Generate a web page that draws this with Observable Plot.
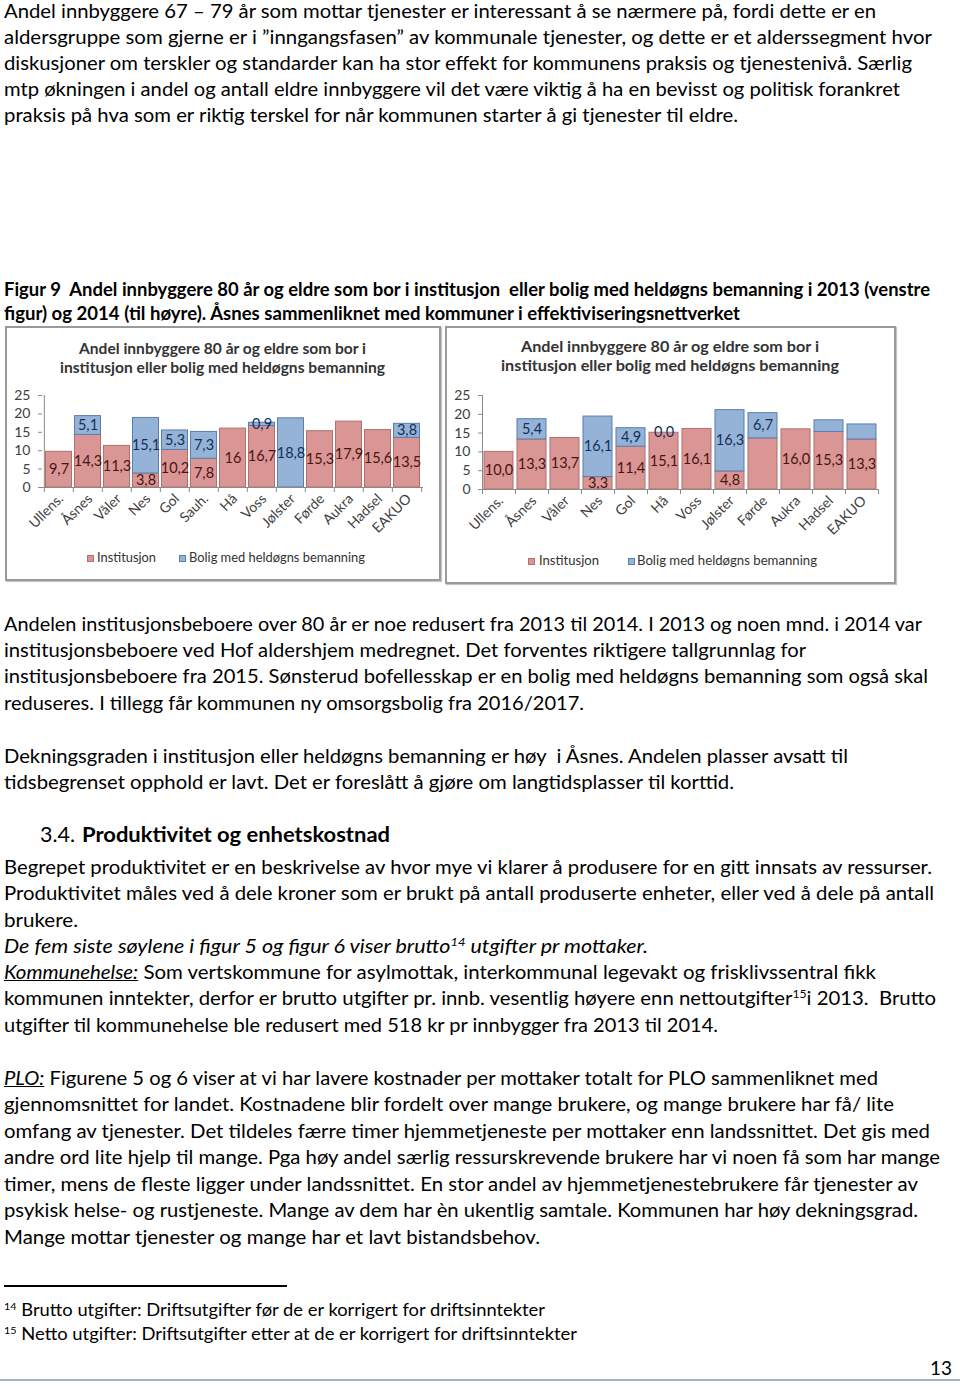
<!DOCTYPE html>
<html>
<head>
<meta charset="utf-8">
<script src="https://cdn.jsdelivr.net/npm/d3@7"></script>
<script src="https://cdn.jsdelivr.net/npm/@observablehq/plot@0.6"></script>
<style>
  html, body { margin: 0; padding: 0; background: #fff; }
  #page { position: relative; width: 960px; height: 1386px; overflow: hidden; font-family: Lato, "Open Sans", sans-serif; color: #000; }
  .ln { position: absolute; white-space: nowrap; font-size: 18.5px; line-height: 26px; transform-origin: 0 50%; }
  .b { font-weight: bold; }
  .i { font-style: italic; }
  .u { text-decoration: underline; }
  sup { font-size: 0.6em; line-height: 0; vertical-align: 0.65em; }
  .box { position: absolute; box-sizing: border-box; border: 2px solid #9a9a9a; background: #fff; box-shadow: 1px 1px 1px #c8c8c8; }
  .ct { position: absolute; white-space: nowrap; font-size: 14.5px; font-weight: bold; color: #333; line-height: 18px; transform-origin: 0 50%; }
  .lg { position: absolute; white-space: nowrap; font-size: 12.5px; color: #333; line-height: 14px; transform-origin: 0 50%; }
  .sw { position: absolute; width: 7px; height: 7px; box-sizing: border-box; }
  .plot { position: absolute; }
  .rule { position: absolute; height: 2px; background: #000; }
</style>
</head>
<body>
<div id="page"></div>
<script>
// ---------- Data ----------
const kommuner2013 = ["Ullens.","Åsnes","Våler","Nes","Gol","Sauh.","Hå","Voss","Jølster","Førde","Aukra","Hadsel","EAKUO"];
const institusjon2013 = [9.7, 14.3, 11.3, 3.8, 10.2, 7.8, 16, 16.7, 0, 15.3, 17.9, 15.6, 13.5];
const bolig2013 = [0, 5.1, 0, 15.1, 5.3, 7.3, 0, 0.9, 18.8, 0, 0, 0, 3.8];
const institusjonLabels2013 = ["9,7","14,3","11,3","3,8","10,2","7,8","16","16,7","","15,3","17,9","15,6","13,5"];
const boligLabels2013 = ["","5,1","","15,1","5,3","7,3","","0,9","18,8","","","","3,8"];

const kommuner2014 = ["Ullens.","Åsnes","Våler","Nes","Gol","Hå","Voss","Jølster","Førde","Aukra","Hadsel","EAKUO"];
const institusjon2014 = [10.0, 13.3, 13.7, 3.3, 11.4, 15.1, 16.1, 4.8, 13.6, 16.0, 15.3, 13.3];
const bolig2014 = [0, 5.4, 0, 16.1, 4.9, 0, 0, 16.3, 6.7, 0, 3.1, 4.0];
const institusjonLabels2014 = ["10,0","13,3","13,7","3,3","11,4","15,1","16,1","4,8","","16,0","15,3","13,3"];
const boligLabels2014 = ["","5,4","","16,1","4,9","0,0","","16,3","6,7","","",""];

const yTicks = [0, 5, 10, 15, 20, 25];
const seriesNames = ["Institusjon", "Bolig med heldøgns bemanning"];
const chartTitle = ["Andel innbyggere 80 år og eldre som bor i", "institusjon eller bolig med heldøgns bemanning"];

// ---------- Page text ----------
const page = document.getElementById("page");
function addLine(html, x, yc, r, cls = "ln", extraStyle = "") {
  const el = document.createElement("div");
  el.className = cls;
  el.innerHTML = html;
  el.style.left = x + "px";
  el.dataset.x = x; el.dataset.r = r; el.dataset.yc = yc;
  if (extraStyle) el.style.cssText += extraStyle;
  page.appendChild(el);
  return el;
}

const para1 = [
  ["Andel innbyggere 67 – 79 år som mottar tjenester er interessant å se nærmere på, fordi dette er en", 11, 876],
  ["aldersgruppe som gjerne er i ”inngangsfasen” av kommunale tjenester, og dette er et alderssegment hvor", 37, 932],
  ["diskusjoner om terskler og standarder kan ha stor effekt for kommunens praksis og tjenestenivå. Særlig", 63, 912],
  ["mtp økningen i andel og antall eldre innbyggere vil det være viktig å ha en bevisst og politisk forankret", 89, 900],
  ["praksis på hva som er riktig terskel for når kommunen starter å gi tjenester til eldre.", 115, 738]
];
para1.forEach(([t, y, r]) => addLine(t, 4, y, r));

addLine('<span class="b">Figur 9&nbsp; Andel innbyggere 80 år og eldre som bor i institusjon &nbsp;eller bolig med heldøgns bemanning i 2013 (venstre</span>', 4, 289, 930);
addLine('<span class="b">figur) og 2014 (til høyre). Åsnes sammenliknet med kommuner i effektiviseringsnettverket</span>', 4, 313, 740);

const para2 = [
  ["Andelen institusjonsbeboere over 80 år er noe redusert fra 2013 til 2014. I 2013 og noen mnd. i 2014 var", 624, 922],
  ["institusjonsbeboere ved Hof aldershjem medregnet. Det forventes riktigere tallgrunnlag for", 650, 806],
  ["institusjonsbeboere fra 2015. Sønsterud bofellesskap er en bolig med heldøgns bemanning som også skal", 676, 928],
  ["reduseres. I tillegg får kommunen ny omsorgsbolig fra 2016/2017.", 703, 584],
  ["Dekningsgraden i institusjon eller heldøgns bemanning er høy &nbsp;i Åsnes. Andelen plasser avsatt til", 756, 848],
  ["tidsbegrenset opphold er lavt. Det er foreslått å gjøre om langtidsplasser til korttid.", 782, 734]
];
para2.forEach(([t, y, r]) => addLine(t, 4, y, r));

addLine("3.4.", 40, 834, 75, "ln", "font-size:21px;");
addLine('<span class="b">Produktivitet og enhetskostnad</span>', 82, 834, 390, "ln", "font-size:21px;");

const para3 = [
  ["Begrepet produktivitet er en beskrivelse av hvor mye vi klarer å produsere for en gitt innsats av ressurser.", 867, 932],
  ["Produktivitet måles ved å dele kroner som er brukt på antall produserte enheter, eller ved å dele på antall", 893, 934],
  ["brukere.", 920, 78],
  ['<span class="i">De fem siste søylene i figur 5 og figur 6 viser brutto<sup>14</sup> utgifter pr mottaker.</span>', 946, 648],
  ['<span class="i u">Kommunehelse:</span> Som vertskommune for asylmottak, interkommunal legevakt og frisklivssentral fikk', 972, 876],
  ["kommunen inntekter, derfor er brutto utgifter pr. innb. vesentlig høyere enn nettoutgifter<sup>15</sup>i 2013.&nbsp; Brutto", 998, 936],
  ["utgifter til kommunehelse ble redusert med 518 kr pr innbygger fra 2013 til 2014.", 1025, 718],
  ['<span class="i u">PLO:</span> Figurene 5 og 6 viser at vi har lavere kostnader per mottaker totalt for PLO sammenliknet med', 1078, 878],
  ["gjennomsnittet for landet. Kostnadene blir fordelt over mange brukere, og mange brukere har få/ lite", 1104, 894],
  ["omfang av tjenester. Det tildeles færre timer hjemmetjeneste per mottaker enn landssnittet. Det gis med", 1131, 930],
  ["andre ord lite hjelp til mange. Pga høy andel særlig ressurskrevende brukere har vi noen få som har mange", 1157, 940],
  ["timer, mens de fleste ligger under landssnittet. En stor andel av hjemmetjenestebrukere får tjenester av", 1184, 918],
  ["psykisk helse- og rustjeneste. Mange av dem har èn ukentlig samtale. Kommunen har høy dekningsgrad.", 1210, 918],
  ["Mange mottar tjenester og mange har et lavt bistandsbehov.", 1237, 540]
];
para3.forEach(([t, y, r]) => addLine(t, 4, y, r));

// footnote separator
const fr = document.createElement("div");
fr.className = "rule"; fr.style.cssText = "left:4px;top:1285px;width:283px;height:1.5px;background:#000;";
page.appendChild(fr);
addLine('<sup style="font-size:10px">14</sup> Brutto utgifter: Driftsutgifter før de er korrigert for driftsinntekter', 4, 1310, 545, "ln", "font-size:17px;");
addLine('<sup style="font-size:10px">15</sup> Netto utgifter: Driftsutgifter etter at de er korrigert for driftsinntekter', 4, 1334, 577, "ln", "font-size:17px;");
addLine("13", 930, 1368, 952, "ln", "font-size:18.5px;");
const br = document.createElement("div");
br.className = "rule"; br.style.cssText = "left:0;top:1379px;width:960px;height:1.5px;background:#9fb1c6;";
page.appendChild(br);

// ---------- Charts ----------
const COLORS = {
  inst: "#d99694", instStroke: "#b46f6d", instText: "#4a1413",
  bolig: "#95b3d7", boligStroke: "#5b7db0", boligText: "#13305a"
};

function makeChart(kommuner, inst, bolig, instL, boligL, g) {
  const rows = [];
  kommuner.forEach((k, i) => {
    rows.push({kommune: k, serie: seriesNames[0], value: inst[i], label: instL[i]});
    rows.push({kommune: k, serie: seriesNames[1], value: bolig[i], label: boligL[i]});
  });
  const inner = g.width - g.ml - g.mr;
  const step = inner / kommuner.length;
  const plotH = g.height - g.mt - g.mb;
  const tickUnits = 5 * 25 / plotH;
  const isInst = d => d.serie === seriesNames[0];
  return Plot.plot({
    width: g.width, height: g.height,
    marginTop: g.mt, marginBottom: g.mb, marginLeft: g.ml, marginRight: g.mr,
    style: {fontFamily: "Lato, sans-serif", fontSize: "13px", color: "#404040", background: "transparent", overflow: "visible"},
    x: {domain: kommuner, padding: 0, label: null, axis: null},
    y: {domain: [0, 25], label: null, axis: null},
    color: {domain: seriesNames, range: [COLORS.inst, COLORS.bolig]},
    marks: [
      Plot.barY(rows, {
        x: "kommune", y: "value", fill: "serie",
        stroke: {value: d => isInst(d) ? COLORS.instStroke : COLORS.boligStroke, scale: null},
        strokeWidth: 1, insetLeft: g.inset, insetRight: g.inset
      }),
      Plot.text(rows, Plot.stackY({
        x: "kommune", y: "value", z: "serie", text: "label",
        fill: {value: d => isInst(d) ? COLORS.instText : COLORS.boligText, scale: null},
        fontSize: 14.5
      })),
      Plot.ruleY([0], {stroke: "#8a8a8a"}),
      Plot.ruleX([kommuner[0]], {x: d => d, y1: 0, y2: 25, dx: -step / 2, stroke: "#8a8a8a"}),
      Plot.ruleX(kommuner, {x: d => d, y1: 0, y2: -tickUnits, dx: -step / 2, stroke: "#8a8a8a"}),
      Plot.ruleX([kommuner[kommuner.length - 1]], {x: d => d, y1: 0, y2: -tickUnits, dx: step / 2, stroke: "#8a8a8a"}),
      Plot.axisY({ticks: yTicks, tickSize: 4, tickPadding: g.tp, stroke: "#8a8a8a", fill: "#404040", fontSize: 14, anchor: "left"}),
      Plot.axisX({tickSize: 0, tickRotate: -45, tickPadding: g.xp, fill: "#404040", fontSize: 14, anchor: "bottom", dx: 2})
    ]
  });
}

function placeChart(box, chartGeom, data, titleYs, titleX, legend) {
  const b = document.createElement("div");
  b.className = "box";
  Object.assign(b.style, {left: box.x + "px", top: box.y + "px", width: box.w + "px", height: box.h + "px"});
  page.appendChild(b);
  const svg = makeChart(...data, chartGeom);
  const wrap = document.createElement("div");
  wrap.className = "plot";
  wrap.style.left = chartGeom.left + "px";
  wrap.style.top = chartGeom.top + "px";
  wrap.appendChild(svg);
  page.appendChild(wrap);
  chartTitle.forEach((t, i) => addLine(t, titleX[i][0], titleYs[i], titleX[i][1], "ct"));
  // legend
  const [sx1, tx1, tr1, sx2, tx2, tr2, ly] = legend;
  const s1 = document.createElement("div"); s1.className = "sw";
  s1.style.cssText += `left:${sx1}px;top:${ly - 3.5}px;background:${COLORS.inst};border:1px solid ${COLORS.instStroke};`;
  page.appendChild(s1);
  addLine(seriesNames[0], tx1, ly, tr1, "lg");
  const s2 = document.createElement("div"); s2.className = "sw";
  s2.style.cssText += `left:${sx2}px;top:${ly - 3.5}px;background:${COLORS.bolig};border:1px solid ${COLORS.boligStroke};`;
  page.appendChild(s2);
  addLine(seriesNames[1], tx2, ly, tr2, "lg");
}

// Left chart: 2013
placeChart(
  {x: 5, y: 326, w: 436, h: 255},
  {left: 7, top: 380, width: 431, height: 160, mt: 15, mb: 53, ml: 35, mr: 15, inset: 1.5, tp: 8, xp: 9},
  [kommuner2013, institusjon2013, bolig2013, institusjonLabels2013, boligLabels2013],
  [349, 368], [[79, 366], [60, 385]],
  [87, 97, 156, 179, 189, 365, 558]
);
// Right chart: 2014
placeChart(
  {x: 445, y: 326, w: 451, h: 258},
  {left: 447, top: 380, width: 446, height: 165, mt: 15, mb: 56, ml: 35, mr: 15, inset: 2, tp: 8, xp: 9},
  [kommuner2014, institusjon2014, bolig2014, institusjonLabels2014, boligLabels2014],
  [347, 366], [[521, 819], [501, 839]],
  [528, 539, 599, 628, 637, 817, 561]
);

// ---------- Fit text lines to their measured extents ----------
function fit() {
  document.querySelectorAll("[data-r]").forEach(el => {
    const x = +el.dataset.x, r = +el.dataset.r, yc = +el.dataset.yc;
    el.style.transform = "none";
    const rect = el.getBoundingClientRect();
    el.style.top = (yc - rect.height / 2) + "px";
    el.style.transform = `scaleX(${(r - x) / rect.width})`;
  });
}
fit();
if (document.fonts && document.fonts.ready) document.fonts.ready.then(fit);
</script>
</body>
</html>
